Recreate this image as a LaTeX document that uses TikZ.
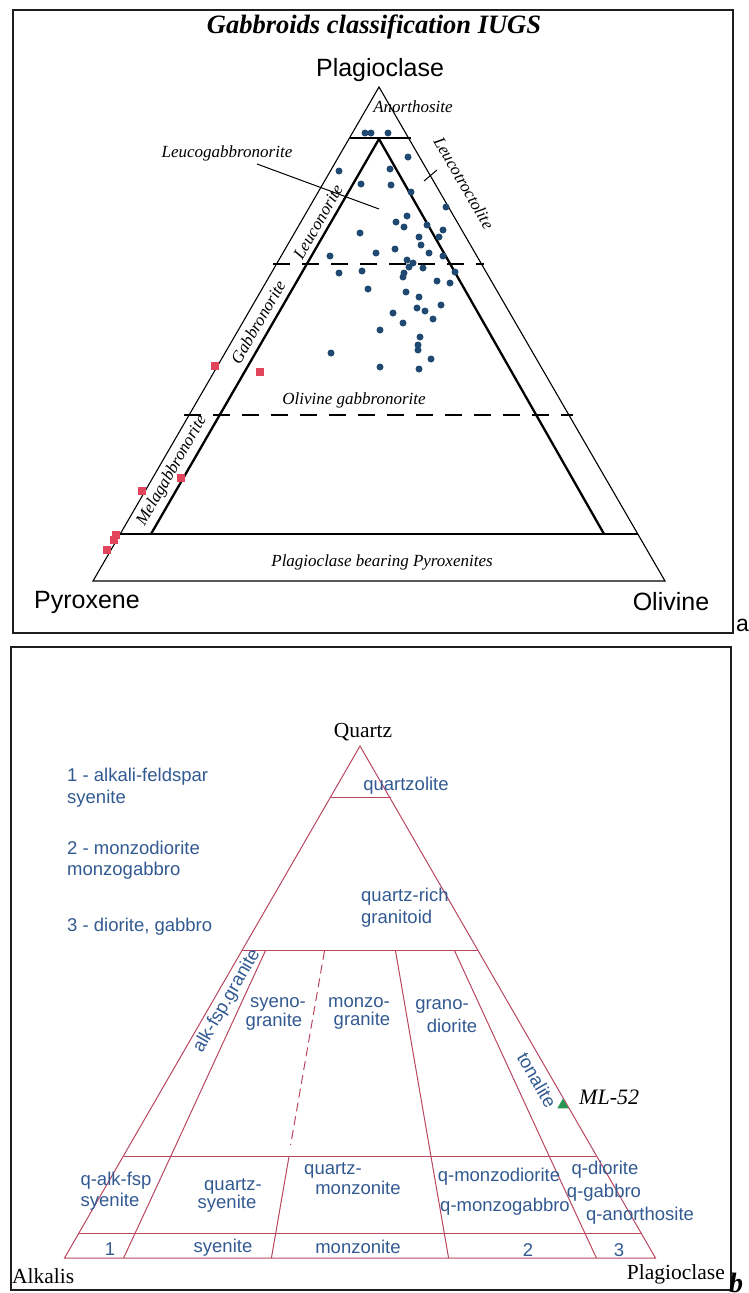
\documentclass[tikz,border=0pt]{standalone}
\usepackage{fontspec}
\setmainfont{Liberation Serif}
\newfontfamily\arial{Liberation Sans}
\usetikzlibrary{shapes.geometric}
\definecolor{dotblue}{RGB}{31,73,112}
\definecolor{sqred}{RGB}{226,68,92}
\definecolor{qapred}{RGB}{185,70,95}
\definecolor{bluetxt}{RGB}{50,90,145}
\definecolor{greentri}{RGB}{40,150,80}
\definecolor{framegray}{RGB}{30,30,30}
\newcommand\setfs[1]{\fontsize{#1}{#1}\selectfont}
\begin{document}
\begin{tikzpicture}[x=1pt,y=-1pt,
  frame/.style={draw=framegray,line width=1.8pt},
  outerline/.style={line width=1.1pt},
  innerline/.style={line width=2.3pt},
  dashline/.style={line width=2.3pt,dash pattern=on 17pt off 12pt},
  qapline/.style={draw=qapred,line width=1pt},
  qapdash/.style={draw=qapred,line width=1pt,dash pattern=on 9pt off 5pt},
  itlab/.style={font=\itshape\setfs{17},inner sep=0},
  sanslab/.style={font=\arial\setfs{25},inner sep=0},
  bluelab/.style={font=\arial\setfs{18.5},text=bluetxt,inner sep=0},
  serlab/.style={font=\setfs{21.5},inner sep=0},
  bdot/.style={circle,fill=dotblue,inner sep=0,minimum size=7pt},
  rsq/.style={rectangle,fill=sqred,inner sep=0,minimum size=8pt},
  leader/.style={line width=1pt}]
\useasboundingbox (0,0) rectangle (749,1293);

% ================= panel a =================
\draw[frame] (13,10) rectangle (733,633);
\node[font=\bfseries\itshape\setfs{26.5},inner sep=0] (title) at (374,27) {Gabbroids classification IUGS};
\node[sanslab] (plag) at (380,70) {Plagioclase};
\node[sanslab] (pyx) at (87,602) {Pyroxene};
\node[sanslab] (oliv) at (671,602) {Olivine};
\node[font=\arial\setfs{23},inner sep=0,anchor=west] (lbla) at (736,625) {a};

\coordinate (Ptop) at (379,87);
\coordinate (Pleft) at (93,581);
\coordinate (Pright) at (665,581);
\draw[outerline] (Ptop) -- (Pleft) -- (Pright) -- cycle;

\coordinate (Itop) at (379,139);
\coordinate (Ileft) at (151,534);
\coordinate (Iright) at (604,534);
\draw[innerline,line join=miter] (Ileft) -- (Itop) -- (Iright);

\coordinate (anL) at (350,138);
\coordinate (anR) at (411,138);
\draw[innerline] (anL) -- (anR);
\coordinate (pbL) at (120,534);
\coordinate (pbR) at (638,534);
\draw[innerline] (pbL) -- (pbR);
\coordinate (d1L) at (273,264);
\coordinate (d1R) at (484,264);
\draw[dashline] (d1L) -- (d1R);
\coordinate (d2L) at (184,415);
\coordinate (d2R) at (573,415);
\draw[dashline] (d2L) -- (d2R);

\node[itlab] (anor) at (413,107) {Anorthosite};
\node[itlab] (lgn) at (227,153) {Leucogabbronorite};
\coordinate (lgA) at (257,164);
\coordinate (lgB) at (379,209);
\draw[leader] (lgA) -- (lgB);
\node[itlab,rotate=-60] (ltr) at (464,183) {Leucotroctolite};
\coordinate (ltA) at (424,181);
\coordinate (ltB) at (437,170);
\draw[leader] (ltA) -- (ltB);
\node[itlab,rotate=60] (lnor) at (318,222) {Leuconorite};
\node[itlab,rotate=60] (gnor) at (258,322) {Gabbronorite};
\node[itlab,rotate=60] (mgn) at (172,471) {Melagabbronorite};
\node[itlab] (ogn) at (354,400) {Olivine gabbronorite};
\node[itlab] (pbp) at (382,562) {Plagioclase bearing Pyroxenites};

\foreach \x/\y [count=\i] in {365/133,371/133,388/133,
 408/157,339/171,390/169,361/184,391/185,411/192,446/207,
 407/216,396/222,404/227,427/225,443/230,439/237,360/233,419/237,421/245,
 429/253,395/249,376/253,443/256,330/256,407/260,413/263,409/267,423/268,
 404/273,403/277,339/273,362/271,455/272,437/281,450/283,368/289,406/292,
 419/297,441/305,417/308,425/311,393/313,433/319,403/323,380/330,420/337,
 418/345,418/350,331/353,431/359,380/367,419/369}
  \node[bdot] (bd\i) at (\x,\y) {};

\foreach \x/\y [count=\i] in {215/366,260/372,181/478,142/491,116/535,114/540,107/550}
  \node[rsq] (rs\i) at (\x,\y) {};

% ================= panel b =================
\draw[frame] (11,647) rectangle (731,1290);
\node[serlab] (qz) at (363,732) {Quartz};
\node[serlab,anchor=base west] (alk) at (12,1283) {Alkalis};
\node[serlab,anchor=base east] (plb) at (725,1279) {Plagioclase};
\node[font=\bfseries\itshape\setfs{28},inner sep=0,anchor=west] (lblb) at (729,1283) {b};

\coordinate (Q) at (360,746);
\coordinate (A) at (64.5,1258);
\coordinate (Pl) at (655.5,1258);
\draw[qapline] (Q) -- (A) -- (Pl) -- cycle;

% horizontal levels
\coordinate (h90L) at (330.5,797);  \coordinate (h90R) at (391,797);
\coordinate (h60L) at (242,950.8);  \coordinate (h60R) at (478.2,950.8);
\coordinate (h20L) at (123.6,1156); \coordinate (h20R) at (596.4,1156);
\coordinate (h05L) at (79.3,1233);  \coordinate (h05R) at (640.7,1233);
\draw[qapline] (h90L) -- (h90R);
\draw[qapline] (h60L) -- (h60R);
\draw[qapline] (h20L) -- (h20R);
\draw[qapline] (h05L) -- (h05R);

% ratio lines
\coordinate (r10a) at (265.4,950.8); \coordinate (r10b) at (170.9,1156); \coordinate (r10c) at (123.6,1258);
\coordinate (r35a) at (324.5,950.8); \coordinate (r35b) at (289.1,1156); \coordinate (r35c) at (271.4,1258);
\coordinate (r35e) at (290.6,1145);
\coordinate (r65a) at (395.5,950.8); \coordinate (r65b) at (430.9,1156); \coordinate (r65c) at (448.6,1258);
\coordinate (r90a) at (454.6,950.8); \coordinate (r90b) at (549.1,1156); \coordinate (r90c) at (596.4,1258);
\draw[qapline] (r10a) -- (r10b) -- (r10c);
\draw[qapdash] (r35a) -- (r35e);
\draw[qapline] (r35b) -- (r35c);
\draw[qapline] (r65a) -- (r65b) -- (r65c);
\draw[qapline] (r90a) -- (r90b) -- (r90c);

% legend
\node[bluelab,anchor=west] (lg1a) at (67,777) {1 - alkali-feldspar};
\node[bluelab,anchor=west] (lg1b) at (67,799) {syenite};
\node[bluelab,anchor=west] (lg2a) at (67,848) {2 - monzodiorite};
\node[bluelab,anchor=west] (lg2b) at (67,871) {monzogabbro};
\node[bluelab,anchor=west] (lg3) at (67,927) {3 - diorite, gabbro};

% field labels
\node[bluelab] (qzl) at (406,786) {quartzolite};
\node[bluelab,anchor=west] (qrg1) at (361,897) {quartz-rich};
\node[bluelab,anchor=west] (qrg2) at (361,919) {granitoid};
\node[bluelab,rotate=60] (afg) at (227,1001) {alk-fsp.granite};
\node[bluelab] (sg1) at (278,1004) {syeno-};
\node[bluelab] (sg2) at (274,1022) {granite};
\node[bluelab] (mg1) at (359,1003) {monzo-};
\node[bluelab] (mg2) at (362,1021) {granite};
\node[bluelab] (gd1) at (442,1006) {grano-};
\node[bluelab] (gd2) at (452,1026) {diorite};
\node[bluelab,rotate=-60] (ton) at (537,1080) {tonalite};
\node[regular polygon,regular polygon sides=3,fill=greentri,inner sep=0,minimum size=13pt] (ml) at (563,1105) {};
\node[font=\itshape\setfs{22},inner sep=0,anchor=west] (mllab) at (579,1097) {ML-52};

\node[bluelab] (qaf1) at (116,1181) {q-alk-fsp};
\node[bluelab] (qaf2) at (110,1202) {syenite};
\node[bluelab] (qs1) at (233,1186) {quartz-};
\node[bluelab] (qs2) at (227,1204) {syenite};
\node[bluelab] (qm1) at (333,1170) {quartz-};
\node[bluelab] (qm2) at (358,1188) {monzonite};
\node[bluelab] (qmd) at (499,1177) {q-monzodiorite};
\node[bluelab] (qmg) at (505,1207) {q-monzogabbro};
\node[bluelab] (qd) at (605,1170) {q-diorite};
\node[bluelab] (qg) at (604,1193) {q-gabbro};
\node[bluelab] (qan) at (640,1216) {q-anorthosite};
\node[bluelab] (b1) at (110,1249) {1};
\node[bluelab] (bsy) at (223,1248) {syenite};
\node[bluelab] (bmz) at (358,1247) {monzonite};
\node[bluelab] (b2) at (528,1250) {2};
\node[bluelab] (b3) at (619,1250) {3};
\end{tikzpicture}
\end{document}
